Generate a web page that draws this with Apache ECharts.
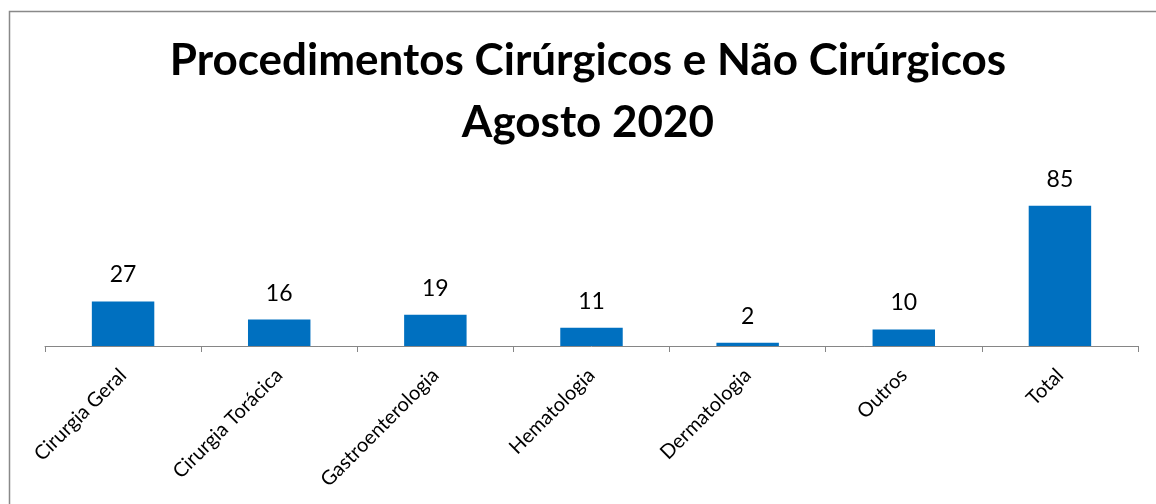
<!DOCTYPE html>
<html>
<head>
<meta charset="utf-8">
<script src="https://cdn.jsdelivr.net/npm/echarts@6/dist/echarts.min.js"></script>
<style>
  html, body { margin: 0; padding: 0; background: #fff; }
  #main { width: 1156px; height: 504px; }
</style>
</head>
<body>
<div id="main"></div>
<script>
// categories and values
const categorias = ['Cirurgia Geral', 'Cirurgia Torácica', 'Gastroenterologia', 'Hematologia', 'Dermatologia', 'Outros', 'Total'];
const valores = [27, 16, 19, 11, 2, 10, 85];
const titulo = 'Procedimentos Cirúrgicos e Não Cirúrgicos\nAgosto 2020';

let myChart = echarts.init(document.getElementById('main'));
let option = {
    animation: false,
    textStyle: { fontFamily: 'Lato' },
    title: {
        text: titulo,
        left: 588,
        top: 30,
        textAlign: 'center',
        padding: 0,
        textStyle: {
            fontFamily: 'Lato',
            fontWeight: 'bold',
            fontSize: 44,
            lineHeight: 62,
            color: '#000'
        }
    },
    graphic: [
        {
            type: 'rect',
            shape: { x: 9.5, y: 11.5, width: 1300, height: 700 },
            style: { fill: 'none', stroke: '#898989', lineWidth: 1.5 },
            silent: true,
            z: -1
        }
    ],
    grid: {
        left: 45,
        right: 18,
        top: 181,
        bottom: 158
    },
    xAxis: {
        type: 'category',
        data: categorias,
        axisLine: { lineStyle: { color: '#868686', width: 1 } },
        axisTick: { show: true, length: 6, lineStyle: { color: '#868686' } },
        axisLabel: {
            rotate: 45,
            margin: 26,
            fontSize: 20,
            color: '#000',
            fontFamily: 'Lato',
            interval: 0
        }
    },
    yAxis: {
        type: 'value',
        min: 0,
        max: 100,
        show: false,
        splitLine: { show: false }
    },
    series: [
        {
            type: 'bar',
            data: valores,
            barWidth: '40%',
            itemStyle: { color: '#0070C0' },
            label: {
                show: true,
                position: 'top',
                distance: 15,
                fontSize: 23,
                fontFamily: 'Lato',
                color: '#000'
            }
        }
    ]
};
myChart.setOption(option);
</script>
</body>
</html>
